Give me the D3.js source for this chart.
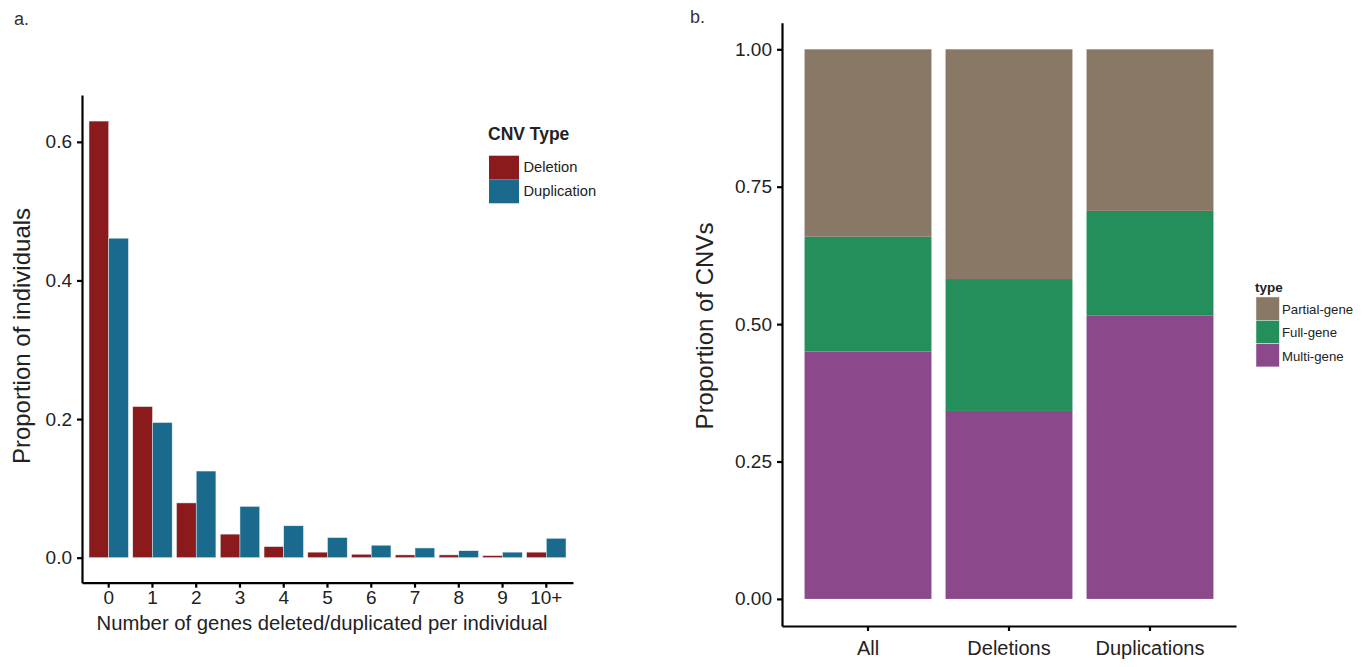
<!DOCTYPE html>
<html lang="en">
<head>
<meta charset="utf-8">
<script src="https://d3js.org/d3.v7.min.js"></script>
<style>
  body { margin: 0; background: #fff; }
  svg { font-family: "Liberation Sans", Arial, sans-serif; }
  .axis path, .axis line { stroke: #000; stroke-width: 2.2px; }
  .axis text { fill: #222; }
</style>
</head>
<body>
<div id="chart"></div>
<script>
// panel a: proportion of individuals per number of genes hit
var geneCounts = ["0", "1", "2", "3", "4", "5", "6", "7", "8", "9", "10+"];
var cnvTypes = ["Deletion", "Duplication"];
var deletionProp = [0.630, 0.218, 0.079, 0.034, 0.016, 0.008, 0.005, 0.004, 0.004, 0.003, 0.008];
var duplicationProp = [0.461, 0.195, 0.125, 0.074, 0.046, 0.029, 0.018, 0.014, 0.010, 0.008, 0.028];
var yTicksA = [0, 0.2, 0.4, 0.6];

// panel b: stacked proportion of CNVs by gene type
var cnvGroups = ["All", "Deletions", "Duplications"];
var geneTypes = ["Multi-gene", "Full-gene", "Partial-gene"];
var multiGene = [0.450, 0.342, 0.516];
var fullGene = [0.209, 0.240, 0.190];
var partialGene = [0.341, 0.418, 0.294];
var yTicksB = [0, 0.25, 0.5, 0.75, 1];

var W = 1371, H = 667;
var svg = d3.select("#chart").append("svg").attr("width", W).attr("height", H);

var colA = { "Deletion": "#8b1a1c", "Duplication": "#196a8d" };
var colB = { "Partial-gene": "#8a7866", "Full-gene": "#258f5b", "Multi-gene": "#8b498b" };

// ---------- panel a ----------
var xA = d3.scaleBand().domain(geneCounts).range([82, 573]).paddingInner(0.1).paddingOuter(0.16);
var subA = d3.scaleBand().domain(cnvTypes).range([0, xA.bandwidth()]);
var yA = d3.scaleLinear().domain([-0.0361, 0.6676]).range([582.7, 95]);

var rowsA = geneCounts.map(function (g, i) {
  return { g: g, vals: [{ k: "Deletion", v: deletionProp[i] }, { k: "Duplication", v: duplicationProp[i] }] };
});

svg.append("g").selectAll("g").data(rowsA).enter().append("g")
  .attr("transform", function (d) { return "translate(" + xA(d.g) + ",0)"; })
  .selectAll("rect").data(function (d) { return d.vals; }).enter().append("rect")
  .attr("x", function (d) { return subA(d.k); })
  .attr("width", subA.bandwidth())
  .attr("y", function (d) { return yA(d.v); })
  .attr("height", function (d) { return yA(0) - yA(d.v); })
  .attr("fill", function (d) { return colA[d.k]; })
  .attr("stroke", "#e8eef2").attr("stroke-width", 0.5);

var axYA = svg.append("g").attr("class", "axis").attr("transform", "translate(82,0)")
  .call(d3.axisLeft(yA).tickValues(yTicksA).tickFormat(d3.format(".1f")).tickSize(5).tickSizeOuter(0).tickPadding(5));
axYA.selectAll("text").style("font-size", "19px");

var axXA = svg.append("g").attr("class", "axis").attr("transform", "translate(0,582.7)")
  .call(d3.axisBottom(xA).tickSize(5).tickSizeOuter(0).tickPadding(3));
axXA.selectAll("text").style("font-size", "19px");

svg.append("text").attr("x", 322).attr("y", 630).attr("text-anchor", "middle")
  .style("font-size", "20.3px").attr("fill", "#222")
  .text("Number of genes deleted/duplicated per individual");
svg.append("text").attr("transform", "translate(29.5,336) rotate(-90)").attr("text-anchor", "middle")
  .style("font-size", "24px").attr("fill", "#222").text("Proportion of individuals");
svg.append("text").attr("x", 14).attr("y", 25).style("font-size", "18px").attr("fill", "#333").text("a.");

// legend a
var legA = svg.append("g").attr("transform", "translate(489,0)");
legA.append("text").attr("x", -1).attr("y", 140).style("font-size", "17.5px").style("font-weight", "bold")
  .attr("fill", "#222").text("CNV Type");
cnvTypes.forEach(function (k, i) {
  legA.append("rect").attr("x", 0).attr("y", 155.7 + i * 23.8).attr("width", 30).attr("height", 23.8).attr("fill", colA[k]);
  legA.append("text").attr("x", 34.5).attr("y", 172 + i * 23.8).style("font-size", "14.7px").attr("fill", "#222").text(k);
});

// ---------- panel b ----------
var xB = d3.scaleBand().domain(cnvGroups).range([782, 1236]).paddingInner(0.1).paddingOuter(0.16);
var yB = d3.scaleLinear().domain([-0.0493, 1.0484]).range([626, 22.7]);

var tableB = cnvGroups.map(function (g, i) {
  return { group: g, "Multi-gene": multiGene[i], "Full-gene": fullGene[i], "Partial-gene": partialGene[i] };
});
var stackB = d3.stack().keys(geneTypes)(tableB);

svg.append("g").selectAll("g").data(stackB).enter().append("g")
  .attr("fill", function (d) { return colB[d.key]; })
  .selectAll("rect").data(function (d) { return d; }).enter().append("rect")
  .attr("x", function (d) { return xB(d.data.group); })
  .attr("width", xB.bandwidth())
  .attr("y", function (d) { return yB(d[1]); })
  .attr("height", function (d) { return yB(d[0]) - yB(d[1]); });

var axYB = svg.append("g").attr("class", "axis").attr("transform", "translate(782,0)")
  .call(d3.axisLeft(yB).tickValues(yTicksB).tickFormat(d3.format(".2f")).tickSize(5).tickSizeOuter(0).tickPadding(5));
axYB.selectAll("text").style("font-size", "19px");

var axXB = svg.append("g").attr("class", "axis").attr("transform", "translate(0,626)")
  .call(d3.axisBottom(xB).tickSize(5).tickSizeOuter(0).tickPadding(10));
axXB.selectAll("text").style("font-size", "20px");

svg.append("text").attr("transform", "translate(713,326) rotate(-90)").attr("text-anchor", "middle")
  .style("font-size", "24px").attr("fill", "#222").text("Proportion of CNVs");
svg.append("text").attr("x", 690).attr("y", 23).style("font-size", "18px").attr("fill", "#333").text("b.");

// legend b
var legB = svg.append("g").attr("transform", "translate(1256,0)");
legB.append("text").attr("x", -1).attr("y", 292).style("font-size", "13.5px").style("font-weight", "bold")
  .attr("fill", "#222").text("type");
geneTypes.slice().reverse().forEach(function (k, i) {
  legB.append("rect").attr("x", 0).attr("y", 297 + i * 23.3).attr("width", 23.3).attr("height", 23.3)
    .attr("fill", colB[k]).attr("stroke", "#eee").attr("stroke-width", 0.5);
  legB.append("text").attr("x", 26).attr("y", 314 + i * 23.3).style("font-size", "13.2px").attr("fill", "#222").text(k);
});
</script>
</body>
</html>
